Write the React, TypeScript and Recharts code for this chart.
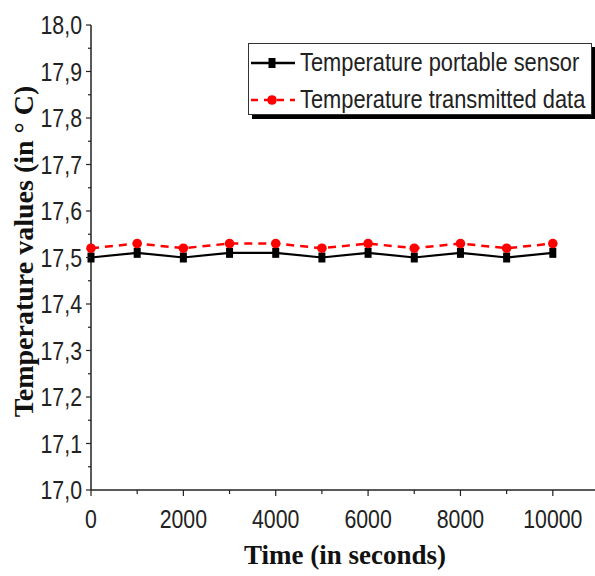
import * as React from "react";
import { LineChart, Line, XAxis, YAxis, Legend } from "recharts";

const times = [0, 1000, 2000, 3000, 4000, 5000, 6000, 7000, 8000, 9000, 10000];
const sensorValues = [17.5, 17.51, 17.5, 17.51, 17.51, 17.5, 17.51, 17.5, 17.51, 17.5, 17.51];
const transmittedValues = [17.52, 17.53, 17.52, 17.53, 17.53, 17.52, 17.53, 17.52, 17.53, 17.52, 17.53];

const xTicks = [0, 1000, 2000, 3000, 4000, 5000, 6000, 7000, 8000, 9000, 10000];
const xLabeled = [0, 2000, 4000, 6000, 8000, 10000];
const yTicks = [
  17.0, 17.05, 17.1, 17.15, 17.2, 17.25, 17.3, 17.35, 17.4, 17.45, 17.5,
  17.55, 17.6, 17.65, 17.7, 17.75, 17.8, 17.85, 17.9, 17.95, 18.0,
];

const data = times.map((t, i) => ({
  time: t,
  sensor: sensorValues[i],
  transmitted: transmittedValues[i],
}));

// no narrow font installed, so regular sans squeezed horizontally
const TICK_FONT = "'Liberation Sans', Arial, sans-serif";
const TITLE_FONT = "'Liberation Serif', 'Times New Roman', serif";

function isMajorY(v: number) {
  return Math.abs(Math.round(v * 10) - v * 10) < 1e-6;
}

function YTick(props: any) {
  const { x, y, payload } = props;
  const major = isMajorY(payload.value);
  return (
    <g>
      <line x1={x - (major ? 5 : 3)} x2={x} y1={y} y2={y} stroke="#222" strokeWidth={1.2} />
      {major && (
        <text
          transform={`translate(${x - 9},${y}) scale(0.82,1)`}
          dy={9}
          textAnchor="end"
          fontSize={26}
          fontFamily={TICK_FONT}
          fill="#222"
        >
          {payload.value.toFixed(1).replace(".", ",")}
        </text>
      )}
    </g>
  );
}

function XTick(props: any) {
  const { x, y, payload } = props;
  const major = xLabeled.includes(payload.value);
  return (
    <g>
      <line x1={x} x2={x} y1={y} y2={y + (major ? 6 : 4)} stroke="#222" strokeWidth={1.2} />
      {major && (
        <text
          transform={`translate(${x},${y + 38}) scale(0.82,1)`}
          textAnchor="middle"
          fontSize={26}
          fontFamily={TICK_FONT}
          fill="#222"
        >
          {payload.value}
        </text>
      )}
    </g>
  );
}

function SquareDot(props: any) {
  const { cx, cy } = props;
  if (cx == null || cy == null) return null;
  return <rect x={cx - 3.5} y={cy - 5} width={7} height={10} fill="#000" />;
}

function CircleDot(props: any) {
  const { cx, cy } = props;
  if (cx == null || cy == null) return null;
  return <circle cx={cx} cy={cy} r={4.8} fill="#ff0000" />;
}

function LegendBox() {
  const row = (dash: boolean, color: string, label: string) => (
    <div style={{ display: "flex", alignItems: "center", height: 37 }}>
      <svg width={46} height={20} style={{ marginRight: 4, flexShrink: 0 }}>
        <line
          x1={1}
          x2={45}
          y1={10}
          y2={10}
          stroke={color}
          strokeWidth={2.5}
          strokeDasharray={dash ? "7 6" : undefined}
        />
        {dash ? (
          <circle cx={22} cy={10} r={4.8} fill={color} />
        ) : (
          <rect x={18.5} y={5} width={7} height={10} fill={color} />
        )}
      </svg>
      <span
        style={{
          display: "inline-block",
          fontFamily: TICK_FONT,
          fontSize: 26,
          color: "#222",
          whiteSpace: "nowrap",
          transform: "scaleX(0.84)",
          transformOrigin: "left center",
        }}
      >
        {label}
      </span>
    </div>
  );
  return (
    <div
      style={{
        width: 344,
        height: 72,
        boxSizing: "border-box",
        border: "1.5px solid #333",
        background: "#fff",
        boxShadow: "4px 4px 0 #000",
        padding: "0 0 0 1px",
        overflow: "hidden",
      }}
    >
      {row(false, "#000", "Temperature portable sensor")}
      {row(true, "#ff0000", "Temperature transmitted data")}
    </div>
  );
}

export default function App() {
  return (
    <div
      style={{
        position: "absolute",
        left: 0,
        top: 0,
        width: 595,
        height: 576,
        overflow: "hidden",
        background: "#fff",
      }}
    >
      <LineChart width={600} height={576} data={data} margin={{ top: 25, right: 1, left: 0, bottom: 0 }}>
        <XAxis
          dataKey="time"
          type="number"
          domain={[0, 11000]}
          ticks={xTicks}
          interval={0}
          height={86}
          tickSize={0}
          tickMargin={0}
          tickLine={false}
          tick={<XTick />}
          axisLine={{ stroke: "#222", strokeWidth: 1.5 }}
          label={{
            value: "Time (in seconds)",
            position: "insideBottom",
            offset: 12,
            style: { fontFamily: TITLE_FONT, fontWeight: 700, fontSize: 27, fill: "#111" },
          }}
        />
        <XAxis
          xAxisId="top"
          dataKey="time"
          type="number"
          domain={[0, 11000]}
          orientation="top"
          height={0}
          tick={false}
          tickLine={false}
          axisLine={{ stroke: "#444", strokeWidth: 1.5 }}
        />
        <YAxis
          type="number"
          domain={[17, 18]}
          ticks={yTicks}
          interval={0}
          width={91}
          tickSize={0}
          tickMargin={0}
          tickLine={false}
          tick={<YTick />}
          axisLine={{ stroke: "#222", strokeWidth: 1.5 }}
          label={{
            value: "Temperature values (in ° C)",
            angle: -90,
            position: "insideLeft",
            offset: 23,
            dy: -6,
            style: {
              textAnchor: "middle",
              fontFamily: TITLE_FONT,
              fontWeight: 700,
              fontSize: 28,
              fill: "#111",
            },
          }}
        />
        <Legend
          layout="horizontal"
          verticalAlign="middle"
          align="center"
          content={() => <LegendBox />}
          wrapperStyle={{ position: "absolute", left: 248, top: 43, width: 348, height: 76 }}
        />
        <Line
          dataKey="sensor"
          stroke="#000"
          strokeWidth={2.2}
          dot={<SquareDot />}
          activeDot={false}
          isAnimationActive={false}
        />
        <Line
          dataKey="transmitted"
          stroke="#ff0000"
          strokeWidth={2.5}
          strokeDasharray="8 6"
          dot={<CircleDot />}
          activeDot={false}
          isAnimationActive={false}
        />
      </LineChart>
    </div>
  );
}
